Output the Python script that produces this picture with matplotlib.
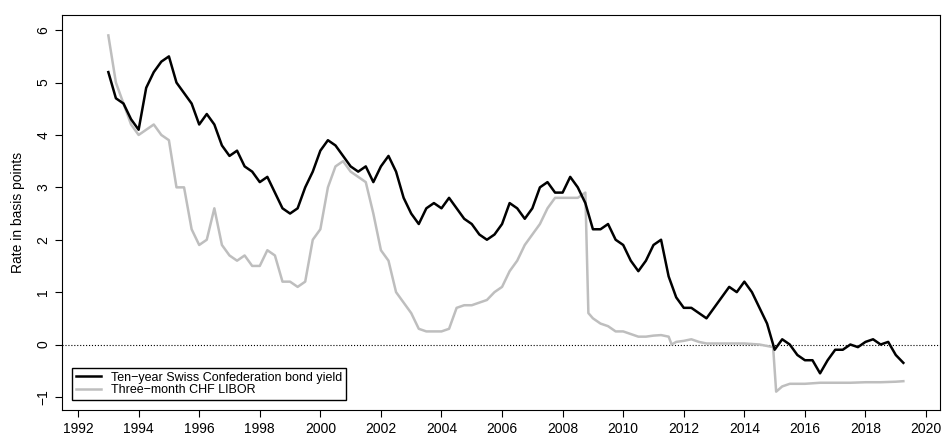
import numpy as np
import matplotlib.pyplot as plt

plt.rcParams['font.family'] = ['Liberation Sans', 'DejaVu Sans']

# ten-year bond yield, quarterly estimates
bond_t = [1993.0, 1993.25, 1993.5, 1993.75, 1994.0, 1994.25, 1994.5, 1994.75, 1995.0, 1995.25, 1995.5, 1995.75,
          1996.0, 1996.25, 1996.5, 1996.75, 1997.0, 1997.25, 1997.5, 1997.75, 1998.0, 1998.25, 1998.5, 1998.75,
          1999.0, 1999.25, 1999.5, 1999.75, 2000.0, 2000.25, 2000.5, 2000.75, 2001.0, 2001.25, 2001.5, 2001.75,
          2002.0, 2002.25, 2002.5, 2002.75, 2003.0, 2003.25, 2003.5, 2003.75, 2004.0, 2004.25, 2004.5, 2004.75,
          2005.0, 2005.25, 2005.5, 2005.75, 2006.0, 2006.25, 2006.5, 2006.75, 2007.0, 2007.25, 2007.5, 2007.75,
          2008.0, 2008.25, 2008.5, 2008.75, 2009.0, 2009.25, 2009.5, 2009.75, 2010.0, 2010.25, 2010.5, 2010.75,
          2011.0, 2011.25, 2011.5, 2011.75, 2012.0, 2012.25, 2012.5, 2012.75, 2013.0, 2013.25, 2013.5, 2013.75,
          2014.0, 2014.25, 2014.5, 2014.75, 2015.0, 2015.25, 2015.5, 2015.75, 2016.0, 2016.25, 2016.5, 2016.75,
          2017.0, 2017.25, 2017.5, 2017.75, 2018.0, 2018.25, 2018.5, 2018.75, 2019.0, 2019.25]
bond = [5.2, 4.7, 4.6, 4.3, 4.1, 4.9, 5.2, 5.4, 5.5, 5.0, 4.8, 4.6,
        4.2, 4.4, 4.2, 3.8, 3.6, 3.7, 3.4, 3.3, 3.1, 3.2, 2.9, 2.6,
        2.5, 2.6, 3.0, 3.3, 3.7, 3.9, 3.8, 3.6, 3.4, 3.3, 3.4, 3.1,
        3.4, 3.6, 3.3, 2.8, 2.5, 2.3, 2.6, 2.7, 2.6, 2.8, 2.6, 2.4,
        2.3, 2.1, 2.0, 2.1, 2.3, 2.7, 2.6, 2.4, 2.6, 3.0, 3.1, 2.9,
        2.9, 3.2, 3.0, 2.7, 2.2, 2.2, 2.3, 2.0, 1.9, 1.6, 1.4, 1.6,
        1.9, 2.0, 1.3, 0.9, 0.7, 0.7, 0.6, 0.5, 0.7, 0.9, 1.1, 1.0,
        1.2, 1.0, 0.7, 0.4, -0.1, 0.1, 0.0, -0.2, -0.3, -0.3, -0.55, -0.3,
        -0.1, -0.1, 0.0, -0.05, 0.05, 0.1, 0.0, 0.05, -0.2, -0.35]

# three-month CHF LIBOR
libor_t = [1993.0, 1993.25, 1993.5, 1993.75, 1994.0, 1994.25, 1994.5, 1994.75, 1995.0, 1995.25, 1995.5, 1995.75,
           1996.0, 1996.25, 1996.5, 1996.75, 1997.0, 1997.25, 1997.5, 1997.75, 1998.0, 1998.25, 1998.5, 1998.75,
           1999.0, 1999.25, 1999.5, 1999.75, 2000.0, 2000.25, 2000.5, 2000.75, 2001.0, 2001.25, 2001.5, 2001.75,
           2002.0, 2002.25, 2002.5, 2002.75, 2003.0, 2003.25, 2003.5, 2003.75, 2004.0, 2004.25, 2004.5, 2004.75,
           2005.0, 2005.25, 2005.5, 2005.75, 2006.0, 2006.25, 2006.5, 2006.75, 2007.0, 2007.25, 2007.5, 2007.75,
           2008.0, 2008.25, 2008.5, 2008.75, 2008.85, 2009.0, 2009.25, 2009.5, 2009.75, 2010.0, 2010.25, 2010.5,
           2010.75, 2011.0, 2011.25, 2011.5, 2011.6, 2011.75, 2012.0, 2012.25, 2012.5, 2012.75, 2013.0, 2013.5,
           2014.0, 2014.5, 2014.95, 2015.05, 2015.25, 2015.5, 2016.0, 2016.5, 2017.0, 2017.5, 2018.0, 2018.5,
           2019.0, 2019.25]
libor = [5.9, 5.0, 4.6, 4.2, 4.0, 4.1, 4.2, 4.0, 3.9, 3.0, 3.0, 2.2,
         1.9, 2.0, 2.6, 1.9, 1.7, 1.6, 1.7, 1.5, 1.5, 1.8, 1.7, 1.2,
         1.2, 1.1, 1.2, 2.0, 2.2, 3.0, 3.4, 3.5, 3.3, 3.2, 3.1, 2.5,
         1.8, 1.6, 1.0, 0.8, 0.6, 0.3, 0.25, 0.25, 0.25, 0.3, 0.7, 0.75,
         0.75, 0.8, 0.85, 1.0, 1.1, 1.4, 1.6, 1.9, 2.1, 2.3, 2.6, 2.8,
         2.8, 2.8, 2.8, 2.9, 0.6, 0.5, 0.4, 0.35, 0.25, 0.25, 0.2, 0.15,
         0.15, 0.17, 0.18, 0.15, 0.0, 0.05, 0.07, 0.1, 0.05, 0.02, 0.02, 0.02,
         0.02, 0.0, -0.05, -0.9, -0.8, -0.75, -0.75, -0.73, -0.73, -0.73, -0.72, -0.72,
         -0.71, -0.7]

fig = plt.figure(figsize=(9.51, 4.44), dpi=100)
ax = fig.add_axes([62/951, 34/444, 878/951, 395/444])
ax.axhline(0, color='black', lw=0.8, ls=':')
ax.plot(libor_t, libor, color='#bebebe', lw=1.8, label='Three\u2212month CHF LIBOR')
ax.plot(bond_t, bond, color='black', lw=1.8, label='Ten\u2212year Swiss Confederation bond yield')
ax.set_xlim(1991.47, 2020.46)
ax.set_ylim(-1.25, 6.29)
ax.set_xticks(np.arange(1992, 2021, 2))
ax.set_yticks(np.arange(-1, 7, 1))
ax.tick_params(labelsize=10, length=5, width=0.8)
plt.setp(ax.get_yticklabels(), rotation=90, va='center')
for s in ax.spines.values():
    s.set_linewidth(0.8)
ax.set_ylabel('Rate in basis points', fontsize=10, labelpad=8)
h, l = ax.get_legend_handles_labels()
ax.legend(h[::-1], l[::-1], loc='lower left', fontsize=9, fancybox=False,
          edgecolor='black', framealpha=1, borderaxespad=0.8, handlelength=2.0,
          labelspacing=0.05, borderpad=0.3)
fig.savefig('out.png', dpi=100, facecolor='w')
